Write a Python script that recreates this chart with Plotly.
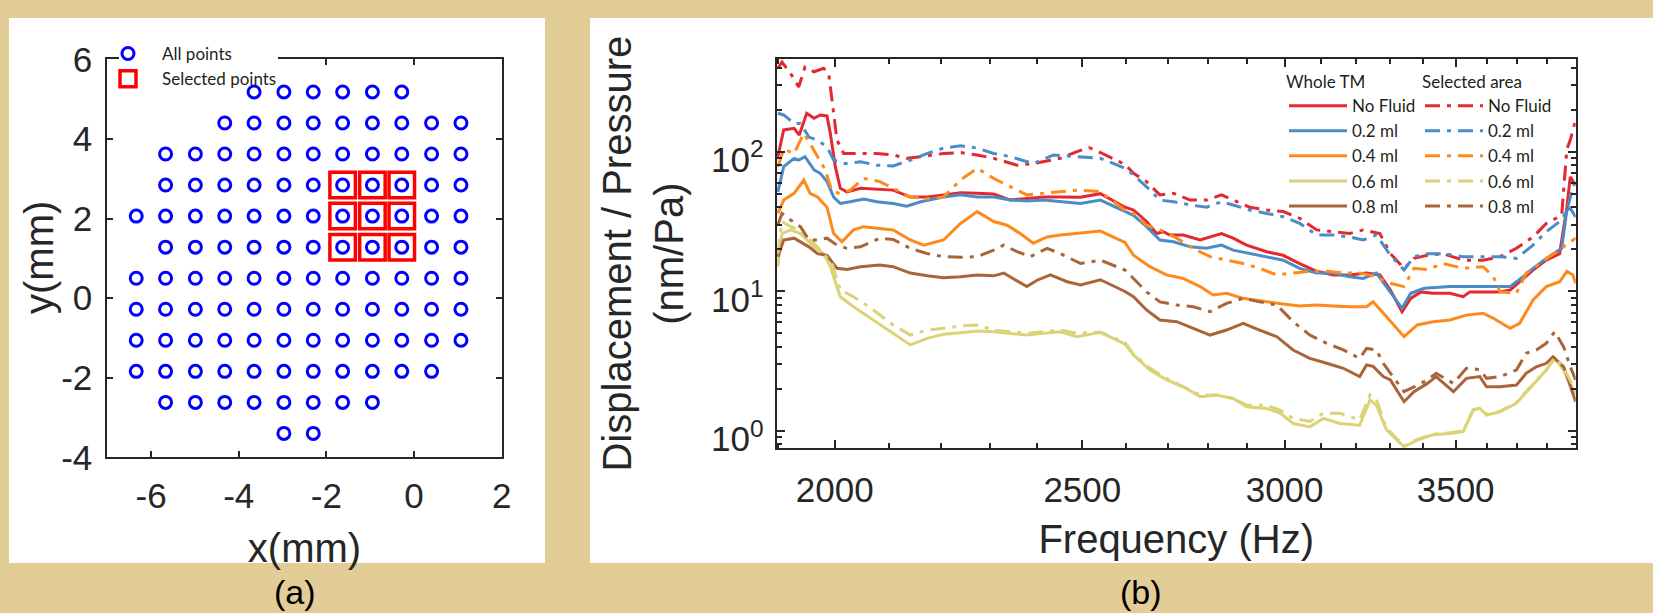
import math
import plotly.graph_objects as go

# ---------------- Panel (a) data: scan grid ----------------
grid_x_mm = [-6.34, -5.67, -4.99, -4.32, -3.65, -2.97, -2.30, -1.63, -0.95, -0.28, 0.40, 1.07]
grid_y_mm = [5.18, 4.40, 3.62, 2.84, 2.06, 1.28, 0.50, -0.28, -1.06, -1.84, -2.62, -3.40]
row_first_col = [4, 3, 1, 1, 0, 1, 0, 0, 0, 0, 1, 5]
row_last_col = [9, 11, 11, 11, 11, 11, 11, 11, 11, 10, 8, 6]
selected_rows = [3, 4, 5]
selected_cols = [7, 8, 9]

# ---------------- Panel (b) data: (frequency Hz, nm/Pa) ----------------
whole_nofluid = [(1900, 91.9), (1910, 143), (1928, 146.8), (1937, 131.5), (1950, 188), (1963, 173), (1974, 183), (1986, 180), (1992, 135), (2001, 78), (2010, 54.6), (2022, 51.5), (2047, 54.6), (2077, 53.7), (2108, 53), (2141, 47.3), (2174, 47.3), (2206, 49), (2240, 50.8), (2274, 50.3), (2308, 49.7), (2343, 45), (2378, 46.3), (2414, 47.3), (2451, 47.3), (2496, 47.1), (2541, 50), (2598, 40), (2618, 38.2), (2649, 31.6), (2673, 25.9), (2689, 26.7), (2705, 25.3), (2738, 25.3), (2780, 23.3), (2834, 25.9), (2864, 24), (2899, 21.4), (2952, 19.2), (2996, 18.1), (3041, 15.8), (3088, 13.9), (3134, 13.1), (3181, 13.1), (3230, 13.5), (3269, 13.1), (3300, 10.2), (3335, 7.14), (3361, 8.89), (3392, 9.9), (3429, 9.67), (3482, 9.67), (3524, 9.14), (3545, 9.9), (3588, 9.9), (3643, 9.9), (3676, 10.2), (3708, 11.7), (3753, 14.2), (3798, 16.7), (3844, 18.6), (3869, 40), (3881, 66), (3900, 57)]
whole_02 = [(1900, 51.5), (1910, 78), (1928, 89.5), (1936, 87), (1947, 91.9), (1963, 73.9), (1974, 69.9), (1986, 61), (1998, 47.3), (2010, 42.5), (2028, 43.7), (2053, 45.7), (2077, 43.7), (2108, 42.5), (2134, 40.7), (2161, 43.7), (2206, 47.3), (2240, 49), (2274, 47.3), (2308, 47.3), (2343, 45), (2378, 44.3), (2414, 45), (2451, 43.7), (2496, 42.5), (2541, 45), (2598, 37.5), (2618, 35), (2649, 29), (2681, 23.3), (2714, 22.6), (2755, 20.8), (2796, 20.3), (2834, 21.4), (2864, 19.7), (2907, 18.6), (2952, 17.7), (2996, 16.7), (3041, 14.6), (3088, 13.5), (3134, 13.5), (3181, 12.7), (3220, 12.35), (3259, 13.5), (3288, 10.8), (3335, 7.55), (3361, 9.67), (3402, 10.5), (3482, 10.8), (3534, 10.8), (3588, 10.9), (3643, 10.9), (3676, 10.8), (3719, 12.7), (3753, 14.6), (3798, 17.2), (3851, 20.3), (3869, 38), (3881, 39.4), (3900, 34)]
whole_04 = [(1900, 36.1), (1910, 45), (1928, 50.3), (1945, 62.6), (1956, 50.3), (1969, 47.3), (1986, 40), (1998, 25.9), (2013, 22.6), (2034, 27.5), (2053, 29), (2083, 28.2), (2108, 27.5), (2141, 23.3), (2167, 21.4), (2206, 23.3), (2240, 30.6), (2274, 37.2), (2308, 31.6), (2336, 29.7), (2364, 25.9), (2392, 22.1), (2422, 24.5), (2451, 25.3), (2488, 25.9), (2541, 27), (2598, 22.4), (2618, 18.1), (2657, 15), (2697, 13.1), (2738, 12.35), (2780, 10.8), (2813, 9.4), (2847, 9.67), (2890, 8.9), (2952, 8.4), (2996, 8.1), (3041, 7.85), (3088, 7.98), (3134, 7.85), (3181, 7.75), (3230, 7.75), (3249, 8.4), (3288, 6.6), (3341, 4.73), (3381, 5.74), (3429, 6.06), (3482, 6.23), (3534, 6.75), (3588, 6.95), (3621, 6.41), (3676, 5.43), (3708, 5.9), (3753, 8.66), (3798, 10.8), (3844, 11.7), (3869, 13.9), (3890, 13.1), (3900, 11.4)]
whole_06 = [(1900, 15), (1907, 25.9), (1922, 27.5), (1939, 25.9), (1963, 20.8), (1980, 18.6), (1992, 15), (2010, 9.14), (2034, 7.75), (2071, 6.23), (2108, 5.0), (2141, 4.13), (2174, 4.6), (2206, 4.92), (2240, 5.05), (2274, 5.19), (2308, 5.13), (2343, 5.0), (2378, 4.86), (2414, 5.0), (2451, 5.13), (2488, 4.73), (2541, 5.08), (2598, 4.19), (2618, 3.5), (2657, 2.73), (2697, 2.32), (2738, 2.07), (2780, 1.76), (2821, 1.81), (2864, 1.71), (2899, 1.49), (2952, 1.45), (2988, 1.34), (3023, 1.13), (3069, 1.07), (3107, 1.23), (3153, 1.13), (3210, 1.10), (3240, 1.67), (3259, 1.53), (3288, 1.02), (3341, 0.77), (3381, 0.86), (3429, 0.94), (3482, 0.96), (3524, 0.99), (3556, 1.41), (3577, 1.45), (3599, 1.30), (3643, 1.37), (3697, 1.58), (3753, 2.13), (3798, 2.73), (3827, 3.31), (3858, 2.73), (3881, 2.19), (3900, 1.81)]
whole_08 = [(1900, 17.7), (1910, 23.3), (1928, 24), (1939, 22.6), (1954, 20.8), (1969, 18.6), (1986, 18.1), (2004, 14.6), (2022, 14.3), (2047, 15), (2083, 15.4), (2108, 15), (2141, 13.5), (2174, 12.9), (2206, 12.5), (2240, 12.7), (2274, 13.1), (2308, 12.9), (2329, 13.5), (2378, 10.8), (2400, 12), (2429, 13.1), (2466, 11.7), (2496, 11.1), (2541, 12.1), (2598, 9.97), (2618, 9.14), (2649, 7.35), (2681, 6.23), (2722, 6.06), (2763, 5.43), (2805, 4.86), (2847, 5.28), (2890, 5.9), (2933, 5.28), (2979, 4.73), (3023, 3.8), (3069, 3.31), (3116, 3.05), (3163, 2.81), (3210, 2.45), (3230, 2.97), (3249, 2.9), (3279, 2.45), (3300, 2.32), (3341, 1.62), (3371, 1.91), (3412, 2.19), (3439, 2.45), (3493, 1.91), (3534, 2.38), (3577, 2.45), (3599, 2.07), (3643, 2.07), (3697, 2.13), (3730, 2.59), (3764, 2.88), (3798, 3.05), (3821, 3.4), (3858, 2.88), (3900, 1.62)]

sel_nofluid = [(1900, 395), (1907, 438), (1922, 362), (1936, 290), (1947, 402), (1963, 373), (1980, 395), (1989, 362), (1995, 234), (2004, 121), (2016, 97), (2047, 97), (2077, 97), (2108, 94.6), (2134, 89.5), (2161, 91.9), (2206, 97), (2240, 98.5), (2274, 94.6), (2308, 89.5), (2357, 80), (2392, 82), (2451, 89.5), (2488, 100), (2515, 107), (2541, 98.5), (2598, 81), (2618, 69.9), (2649, 61), (2681, 49), (2714, 50.3), (2755, 45), (2796, 45), (2834, 49), (2864, 45), (2907, 40), (2952, 38.2), (2996, 37.2), (3041, 33.3), (3088, 27.5), (3134, 26.7), (3181, 25.9), (3220, 27.5), (3269, 25.9), (3300, 18.6), (3341, 14.6), (3371, 17.2), (3412, 18.1), (3460, 18.6), (3524, 16.7), (3588, 16.7), (3643, 17.7), (3697, 20.3), (3753, 24.5), (3798, 30.6), (3851, 35), (3869, 104), (3881, 121), (3900, 168)]
sel_02 = [(1900, 188), (1910, 183), (1928, 159), (1939, 159), (1954, 127), (1969, 121), (1986, 108), (1998, 87), (2016, 82), (2047, 84.5), (2077, 80), (2108, 79), (2141, 87), (2174, 97), (2206, 106), (2240, 110), (2274, 106), (2308, 97), (2343, 92), (2392, 82), (2436, 94.6), (2488, 92), (2541, 89.5), (2598, 76), (2618, 68), (2649, 56), (2681, 45), (2714, 43.7), (2755, 41.5), (2796, 40), (2834, 43.7), (2864, 41.5), (2907, 38.2), (2952, 36.1), (2996, 34.2), (3041, 30.6), (3088, 25.3), (3134, 25.3), (3181, 24.5), (3220, 23.3), (3259, 25.3), (3300, 18.1), (3341, 14.2), (3371, 17.7), (3412, 18.6), (3460, 18.6), (3524, 17.7), (3588, 17.7), (3643, 17.7), (3697, 17.2), (3753, 21.4), (3798, 26.7), (3851, 32.4), (3869, 38), (3900, 66)]
sel_04 = [(1900, 78), (1910, 104), (1928, 97), (1945, 135), (1956, 114), (1969, 92), (1983, 74), (1995, 51.5), (2010, 50.3), (2028, 53), (2053, 64.3), (2083, 61), (2108, 54.6), (2141, 47.3), (2174, 46), (2206, 47.3), (2240, 62.6), (2274, 76), (2308, 64.3), (2343, 56), (2378, 49), (2414, 50.3), (2451, 51.5), (2488, 53), (2541, 51.7), (2598, 38), (2618, 36.1), (2649, 29.7), (2681, 27.5), (2722, 24), (2763, 20.3), (2805, 17.7), (2847, 16.7), (2890, 15.8), (2933, 14.6), (2979, 13.1), (3023, 13.5), (3069, 13.9), (3116, 13.9), (3163, 13.5), (3210, 13.5), (3249, 12.9), (3300, 11.4), (3341, 10.8), (3371, 14.6), (3412, 14.3), (3460, 15.8), (3524, 14.6), (3588, 15), (3621, 12.7), (3643, 9.9), (3697, 9.67), (3730, 13.5), (3775, 15.8), (3821, 18.6), (3851, 20.3), (3900, 24)]
sel_06 = [(1900, 18.6), (1907, 31.6), (1922, 29), (1939, 27.5), (1963, 22.1), (1980, 18.6), (1995, 15.8), (2010, 10.2), (2034, 9.14), (2071, 7.35), (2108, 5.74), (2141, 4.86), (2174, 5.28), (2206, 5.43), (2240, 5.64), (2274, 5.74), (2308, 5.28), (2343, 5.13), (2378, 5.0), (2414, 5.13), (2451, 5.28), (2488, 5.0), (2541, 5.1), (2598, 4.3), (2618, 3.55), (2657, 2.81), (2697, 2.38), (2738, 2.07), (2780, 1.81), (2821, 1.81), (2864, 1.71), (2899, 1.53), (2952, 1.53), (2988, 1.41), (3023, 1.23), (3069, 1.17), (3107, 1.34), (3153, 1.34), (3210, 1.2), (3240, 1.81), (3259, 1.67), (3288, 1.05), (3341, 0.78), (3381, 0.87), (3429, 0.95), (3482, 0.97), (3524, 1.0), (3556, 1.42), (3577, 1.46), (3599, 1.32), (3643, 1.38), (3697, 1.6), (3753, 2.15), (3798, 2.75), (3827, 3.35), (3858, 2.8), (3881, 2.3), (3900, 1.9)]
sel_08 = [(1900, 29.7), (1907, 36.1), (1922, 32.4), (1939, 29), (1954, 23.3), (1969, 23.3), (1986, 24), (2004, 21.4), (2022, 20.3), (2047, 20.8), (2083, 24), (2108, 23.5), (2141, 20.3), (2174, 18.6), (2206, 17.7), (2240, 17.5), (2274, 17.7), (2308, 19.7), (2329, 21.4), (2357, 19.2), (2385, 17.7), (2422, 20.3), (2451, 18.6), (2496, 15.8), (2541, 16.7), (2598, 14.2), (2618, 12.35), (2649, 9.9), (2681, 8.4), (2722, 7.97), (2763, 7.75), (2805, 7.14), (2847, 8.19), (2890, 8.9), (2933, 8.4), (2979, 7.97), (3023, 6.06), (3069, 4.86), (3116, 4.24), (3163, 3.8), (3210, 3.31), (3230, 3.9), (3259, 3.8), (3279, 3.05), (3300, 2.59), (3341, 1.91), (3371, 2.07), (3412, 2.32), (3439, 2.59), (3493, 2.19), (3534, 2.81), (3577, 2.75), (3599, 2.38), (3643, 2.45), (3697, 2.73), (3730, 3.6), (3764, 3.8), (3798, 4.24), (3827, 5.13), (3858, 4.0), (3881, 2.88), (3900, 2.32)]

series_labels = ["No Fluid", "0.2 ml", "0.4 ml", "0.6 ml", "0.8 ml"]
whole_series = [whole_nofluid, whole_02, whole_04, whole_06, whole_08]
selected_series = [sel_nofluid, sel_02, sel_04, sel_06, sel_08]

x_ticks_a = [-6, -4, -2, 0, 2]
y_ticks_a = [-4, -2, 0, 2, 4, 6]
freq_ticks = [2000, 2500, 3000, 3500]
resp_ticks = [1, 10, 100]
resp_tick_text = ["10<sup>0</sup>", "10<sup>1</sup>", "10<sup>2</sup>"]

# ---------------- styling / layout helpers ----------------
W, H = 1653, 613
def pxx(x):
    return x / W
def pxy(y):
    return 1 - y / H

colors = ["#e4282f", "#4a8cc8", "#ff8a1c", "#dcd278", "#aa6438"]
AX = "#262626"
TICKFONT = dict(family="Liberation Sans, Arial, sans-serif", size=35, color=AX)
TITLEFONT = dict(family="Liberation Sans, Arial, sans-serif", size=40, color=AX)
LEGFONT = dict(family="Lato, sans-serif", size=17, color="#231f20")
ITEMW = 58

fig = go.Figure()

ax_pts, ay_pts = [], []
for j, yv in enumerate(grid_y_mm):
    for i in range(row_first_col[j], row_last_col[j] + 1):
        ax_pts.append(grid_x_mm[i])
        ay_pts.append(yv)
sx_pts, sy_pts = [], []
for j in selected_rows:
    for i in selected_cols:
        sx_pts.append(grid_x_mm[i])
        sy_pts.append(grid_y_mm[j])

fig.add_trace(go.Scatter(x=ax_pts, y=ay_pts, mode="markers", name="All points",
                         marker=dict(symbol="circle-open", size=12, color="#0000ff",
                                     line=dict(width=3, color="#0000ff")),
                         xaxis="x", yaxis="y", legend="legend"))
fig.add_trace(go.Scatter(x=sx_pts, y=sy_pts, mode="markers", name="Selected points",
                         marker=dict(symbol="square-open", size=25.5, color="#ff0000",
                                     line=dict(width=3.5, color="#ff0000")),
                         xaxis="x", yaxis="y", legend="legend"))

for k, s in enumerate(whole_series):
    fig.add_trace(go.Scatter(x=[p[0] for p in s], y=[p[1] for p in s], mode="lines",
                             name=series_labels[k], line=dict(color=colors[k], width=3),
                             xaxis="x2", yaxis="y2", legend="legend2"))
for k, s in enumerate(selected_series):
    fig.add_trace(go.Scatter(x=[p[0] for p in s], y=[p[1] for p in s], mode="lines",
                             name=series_labels[k],
                             line=dict(color=colors[k], width=3, dash="15px,7px,4px,7px"),
                             xaxis="x2", yaxis="y2", legend="legend3"))

common_axis = dict(showline=True, linecolor=AX, linewidth=2, mirror="ticks",
                   ticks="inside", tickcolor=AX, tickwidth=2, showgrid=False,
                   zeroline=False, tickfont=TICKFONT, automargin=False)

minor_freq = [f for f in range(1900, 3901, 100) if f not in freq_ticks]
minor_resp = [m * d for d in (0.1, 1, 10, 100) for m in range(2, 10)]

LABELFONT = dict(family="Liberation Sans, Arial, sans-serif", size=34, color="black")

fig.update_layout(
    template="none",
    width=W, height=H,
    margin=dict(l=0, r=0, t=0, b=0, pad=0, autoexpand=False),
    paper_bgcolor="#e3cd97",
    plot_bgcolor="white",
    hovermode=False,
    showlegend=True,
    xaxis=dict(domain=[pxx(107.3), pxx(501.7)], range=[-7, 2], anchor="y",
               tickmode="array", tickvals=x_ticks_a, ticktext=[str(v) for v in x_ticks_a],
               ticklen=6, ticklabelstandoff=7,
               title=dict(text="x(mm)", font=TITLEFONT, standoff=20), **common_axis),
    yaxis=dict(domain=[pxy(457.3), pxy(59.3)], range=[-4, 6], anchor="x",
               tickmode="array", tickvals=y_ticks_a, ticktext=[str(v) for v in y_ticks_a],
               ticklen=6, ticklabelstandoff=6, **common_axis),
    xaxis2=dict(domain=[pxx(776.7), pxx(1575.7)], type="log",
                range=[math.log10(1898), math.log10(3900)], anchor="y2",
                tickmode="array", tickvals=freq_ticks, ticktext=[str(v) for v in freq_ticks],
                ticklen=8, ticklabelstandoff=10,
                minor=dict(tickmode="array", tickvals=minor_freq, ticks="inside", ticklen=5,
                           tickwidth=2, tickcolor=AX, showgrid=False),
                title=dict(text="Frequency (Hz)", font=TITLEFONT, standoff=17), **common_axis),
    yaxis2=dict(domain=[pxy(448), pxy(59.3)], type="log",
                range=[math.log10(0.755), math.log10(458)], anchor="x2",
                tickmode="array", tickvals=resp_ticks, ticktext=resp_tick_text,
                ticklen=8, ticklabelstandoff=4, ticklabelshift=8,
                minor=dict(tickmode="array", tickvals=minor_resp, ticks="inside", ticklen=5,
                           tickwidth=2, tickcolor=AX, showgrid=False),
                title=dict(text="Displacement / Pressure<br>(nm/Pa)", font=TITLEFONT, standoff=15),
                **common_axis),
    legend=dict(x=pxx(94), y=pxy(36), xanchor="left", yanchor="top",
                bgcolor="rgba(0,0,0,0)", font=LEGFONT, itemwidth=ITEMW, borderwidth=0),
    legend2=dict(x=pxx(1284), y=pxy(66), xanchor="left", yanchor="top",
                 bgcolor="rgba(0,0,0,0)", font=LEGFONT, itemwidth=ITEMW,
                 title=dict(text="Whole TM", font=LEGFONT)),
    legend3=dict(x=pxx(1420), y=pxy(66), xanchor="left", yanchor="top",
                 bgcolor="rgba(0,0,0,0)", font=LEGFONT, itemwidth=ITEMW,
                 title=dict(text="Selected area", font=LEGFONT)),
    shapes=[
        dict(type="rect", xref="paper", yref="paper", x0=pxx(9), x1=pxx(545),
             y0=pxy(563), y1=pxy(18), fillcolor="white", line=dict(width=0), layer="below"),
        dict(type="rect", xref="paper", yref="paper", x0=pxx(590), x1=1.0,
             y0=pxy(563), y1=pxy(18), fillcolor="white", line=dict(width=0), layer="below"),
        # white gap in panel (a)'s top frame line behind its legend
        dict(type="rect", xref="paper", yref="paper", x0=pxx(119), x1=pxx(278),
             y0=pxy(65), y1=pxy(54), fillcolor="white", line=dict(width=0), layer="above"),
    ],
    annotations=[
        dict(text="y(mm)", x=pxx(39), y=pxy(258), xref="paper", yref="paper",
             xanchor="center", yanchor="middle", textangle=-90, showarrow=False, font=TITLEFONT),
        dict(text="(a)", x=pxx(295), y=pxy(592), xref="paper", yref="paper",
             xanchor="center", yanchor="middle", showarrow=False, font=LABELFONT),
        dict(text="(b)", x=pxx(1141), y=pxy(592), xref="paper", yref="paper",
             xanchor="center", yanchor="middle", showarrow=False, font=LABELFONT),
    ],
)

fig.write_html("out.html")
